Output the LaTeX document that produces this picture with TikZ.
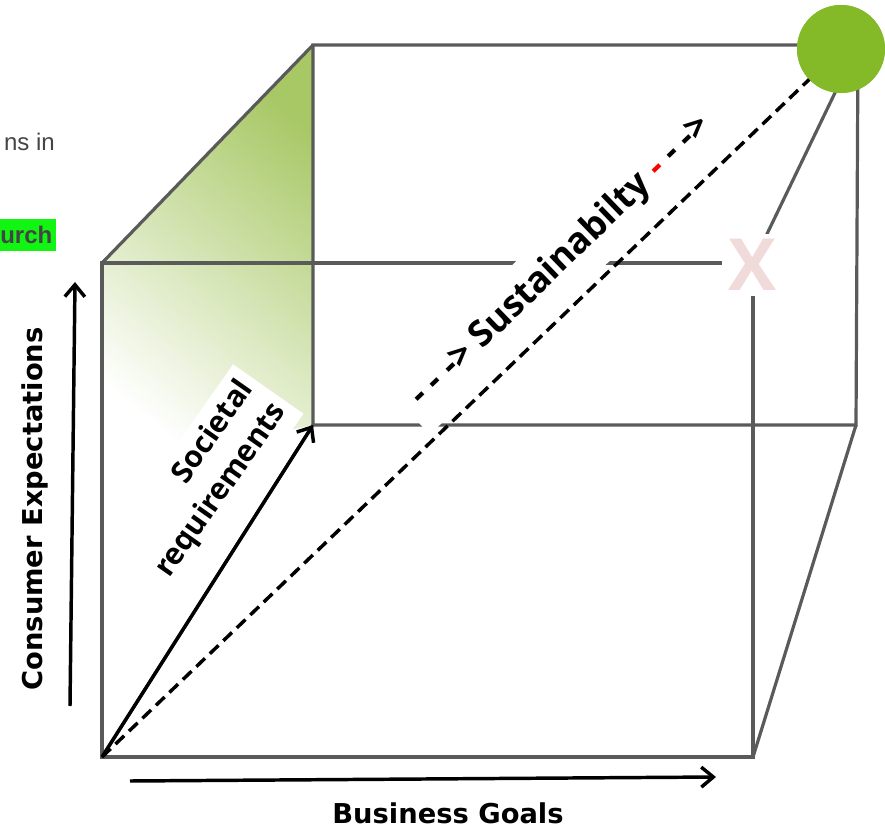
\documentclass[tikz,border=0pt]{standalone}
\usepackage{fontspec}
\setmainfont{Open Sans}
\newfontfamily\axisfont{DejaVu Sans}
\newfontfamily\webfont{Liberation Sans}
\usetikzlibrary{arrows.meta}
\definecolor{edgegray}{HTML}{5A5A5A}
\definecolor{leafgreen}{HTML}{84B928}
\definecolor{shadegreen}{HTML}{A8C866}
\definecolor{xpink}{HTML}{F0DADA}
\definecolor{webgray}{HTML}{444444}
\definecolor{marker}{HTML}{12F512}
\tikzset{
  edge/.style={draw=edgegray, line width=2.4pt},
  axisarrow/.style={line width=2.6pt, -{Straight Barb[length=9pt,width=15pt,line width=2.6pt]}},
  axislabel/.style={font=\axisfont\bfseries\fontsize{20.5}{24}\selectfont},
  slantlabel/.style={fill=white, font=\bfseries\fontsize{22.5}{30}\selectfont},
}

\begin{document}
\begin{tikzpicture}[x=0.75pt,y=-0.75pt]
	\useasboundingbox (0,0) rectangle (885,830);
	% cube corners
	\coordinate (ftl) at (102,263);
	\coordinate (ftr) at (753,263);
	\coordinate (fbl) at (102,757);
	\coordinate (fbr) at (753,757);
	\coordinate (btl) at (313,45);
	\coordinate (btr) at (858,45);
	\coordinate (bbl) at (313,425);
	\coordinate (bbr) at (856,425);
	\coordinate (fmid) at (102,470);
	% green side
	\shade[top color=shadegreen, middle color=shadegreen!35, bottom color=white, shading angle=-40]
		(ftl) -- (btl) -- (bbl) -- (fmid) -- cycle;
	% edges
	\draw[edge] (ftl) -- (ftr) -- (fbr) -- (fbl) -- cycle;
	\draw[edge] (btl) -- (btr) -- (bbr) -- (bbl) -- cycle;
	\draw[edge] (ftl) -- (btl);
	\draw[edge] (ftr) -- (btr);
	\draw[edge] (fbl) -- (bbl);
	\draw[edge] (fbr) -- (bbr);
	% labels on white
	\node[slantlabel, rotate=55, align=right, anchor=north east, inner sep=6pt] (societal) at (233,364) {Societal\\requirements};
	\node[slantlabel, rotate=44, font=\bfseries\fontsize{27}{32}\selectfont, inner xsep=10pt, inner ysep=0pt, text height=30.5pt, text depth=18pt] (sust) at (562,262) {- - -> Sustainabilty \textcolor{red}{-} - ->};
	\node[fill=white, minimum width=47pt, minimum height=47pt, inner sep=0pt, text=xpink, font=\bfseries\fontsize{54}{54}\selectfont] (xmark) at (753,265) {X};
	% arrows
	\node[leafgreen, fill, circle, minimum size=66pt, inner sep=0pt] (goal) at (841,49) {};
	\draw[line width=2.6pt, dash pattern=on 9pt off 5pt] (fbl) -- (goal.center);
	\node[leafgreen, fill, circle, minimum size=66pt, inner sep=0pt] at (goal) {};
	\draw[axisarrow] (fbl) -- (bbl);
	\coordinate (cstart) at (70,706);
	\coordinate (cend) at (75,282);
	\draw[axisarrow] (cstart) -- (cend);
	\coordinate (bstart) at (130,781);
	\coordinate (bend) at (716,777);
	\draw[axisarrow] (bstart) -- (bend);
	\node[axislabel, rotate=90] (consumer) at (35,509) {Consumer Expectations};
	\node[axislabel] (business) at (448,813) {Business Goals};
	% page fragments
	\node[text=webgray, font=\webfont\fontsize{18}{21}\selectfont, anchor=east, inner sep=0pt] (frag1) at (55,142) {ns in};
	\node[fill=marker, text=webgray, font=\webfont\bfseries\fontsize{18}{21}\selectfont, anchor=west, inner xsep=0pt, minimum height=24pt] (frag2) at (0,235) {urch\,};
\end{tikzpicture}
\end{document}
